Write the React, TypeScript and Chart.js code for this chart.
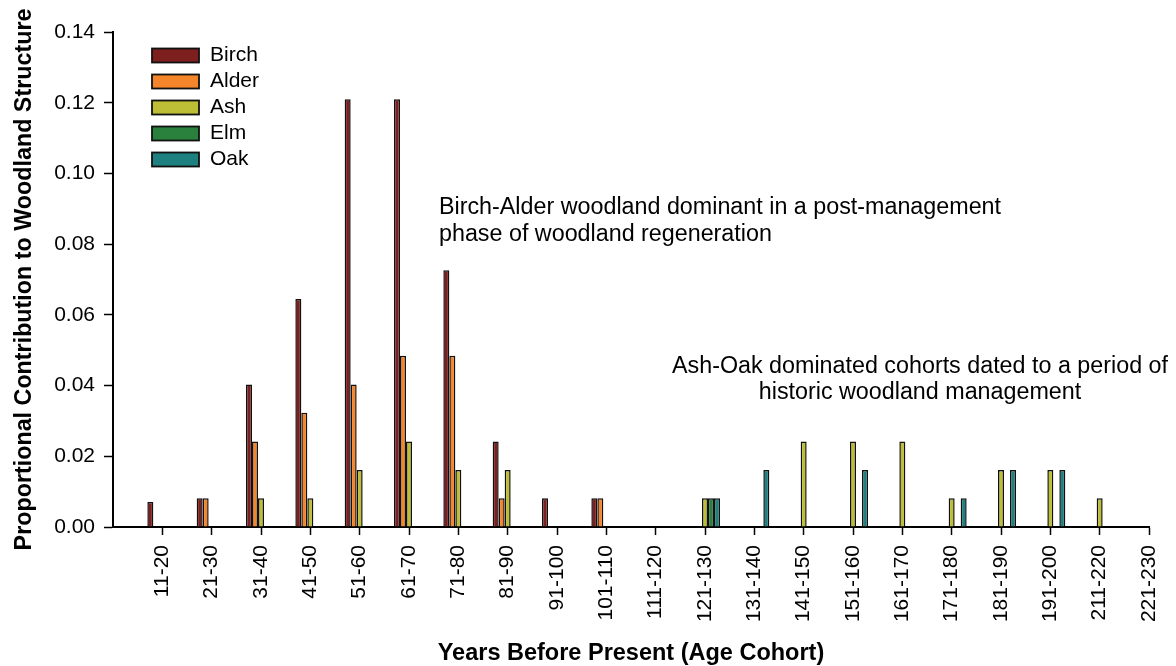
import React, { useEffect, useRef } from 'react';
import { Chart, registerables } from 'chart.js';

Chart.register(...registerables);

const FONT = '"Liberation Sans", Arial, Helvetica, sans-serif';

// Age cohorts (leading blank slot sits on the y-axis)
const categories = ['', '11-20', '21-30', '31-40', '41-50', '51-60', '61-70', '71-80', '81-90', '91-100', '101-110', '111-120', '121-130', '131-140', '141-150', '151-160', '161-170', '171-180', '181-190', '191-200', '211-220', '221-230'];

const birch = [null, 0.0071, 0.0081, 0.0403, 0.0645, 0.121, 0.121, 0.0726, 0.0242, 0.0081, 0.0081, null, null, null, null, null, null, null, null, null, null, null];
const alder = [null, null, 0.0081, 0.0242, 0.0323, 0.0403, 0.0484, 0.0484, 0.0081, null, 0.0081, null, null, null, null, null, null, null, null, null, null, null];
const ash = [null, null, null, 0.0081, 0.0081, 0.0161, 0.0242, 0.0161, 0.0161, null, null, null, 0.0081, null, 0.0242, 0.0242, 0.0242, 0.0081, 0.0161, 0.0161, 0.0081, null];
const elm = [null, null, null, null, null, null, null, null, null, null, null, null, 0.0081, null, null, null, null, null, null, null, null, null];
const oak = [null, null, null, null, null, null, null, null, null, null, null, null, 0.0081, 0.0161, null, 0.0161, null, 0.0081, 0.0161, 0.0161, null, null];

const seriesNames = ['Birch', 'Alder', 'Ash', 'Elm', 'Oak'];
const seriesColors = ['#7e1f1f', '#f5852a', '#bdbd36', '#2a803d', '#1f8080'];

const yTicks = [0, 0.02, 0.04, 0.06, 0.08, 0.1, 0.12, 0.14];

const annotation1 = ['Birch-Alder woodland dominant in a post-management', 'phase of woodland regeneration'];
const annotation2 = ['Ash-Oak dominated cohorts dated to a period of', 'historic woodland management'];

const customLegend = {
  id: 'customLegend',
  afterDraw(chart: any) {
    const ctx = chart.ctx;
    ctx.save();
    ctx.font = `21px ${FONT}`;
    ctx.textBaseline = 'middle';
    ctx.textAlign = 'left';
    chart.data.datasets.forEach((ds: any, i: number) => {
      const x = 152;
      const y = 48.5 + i * 26;
      ctx.fillStyle = ds.backgroundColor;
      ctx.fillRect(x, y, 47, 14);
      ctx.lineWidth = 1.8;
      ctx.strokeStyle = '#111';
      ctx.strokeRect(x, y, 47, 14);
      ctx.fillStyle = '#000';
      ctx.fillText(ds.label, 210, y + 7);
    });
    ctx.restore();
  },
};

const annotations = {
  id: 'annotations',
  afterDraw(chart: any) {
    const ctx = chart.ctx;
    ctx.save();
    ctx.font = `23.3px ${FONT}`;
    ctx.fillStyle = '#000';
    ctx.textBaseline = 'middle';
    ctx.textAlign = 'left';
    annotation1.forEach((t, i) => ctx.fillText(t, 439, 208 + i * 27));
    ctx.textAlign = 'center';
    annotation2.forEach((t, i) => ctx.fillText(t, 920, 367 + i * 26));
    ctx.restore();
  },
};

export default function App() {
  const ref = useRef<HTMLCanvasElement | null>(null);

  useEffect(() => {
    document.body.style.margin = '0';
    if (!ref.current) return;
    Chart.defaults.font.family = FONT;
    Chart.defaults.color = '#000';
    const dataSeries = [birch, alder, ash, elm, oak];
    const chart = new Chart(ref.current, {
      type: 'bar',
      data: {
        labels: categories,
        datasets: dataSeries.map((d, i) => ({
          label: seriesNames[i],
          data: d,
          backgroundColor: seriesColors[i],
          borderColor: '#111',
          borderWidth: 1.5,
          borderSkipped: 'bottom',
          categoryPercentage: 0.608,
          barPercentage: 1,
        })),
      },
      options: {
        responsive: false,
        animation: false,
        devicePixelRatio: 1,
        layout: { padding: { top: 32, right: 27, left: 0, bottom: 0 } },
        plugins: {
          legend: { display: false },
          tooltip: { enabled: false },
        },
        scales: {
          x: {
            type: 'category',
            offset: false,
            min: 0,
            max: categories.length - 1,
            afterFit: (s: any) => { s.height = 139; s.paddingRight = 0; s.paddingLeft = 0; },
            afterBuildTicks: (s: any) => { s.ticks = s.ticks.filter((t: any) => t.value !== 0); },
            grid: {
              offset: false,
              drawOnChartArea: false,
              drawTicks: true,
              tickLength: 8,
              tickColor: '#000',
              tickWidth: 1.5,
              color: '#000',
            },
            border: { display: true, color: '#000', width: 2 },
            ticks: {
              autoSkip: false,
              minRotation: 90,
              maxRotation: 90,
              padding: 10,
              font: { size: 21 },
              color: '#000',
            },
            title: {
              display: true,
              text: 'Years Before Present (Age Cohort)',
              font: { size: 23.5, weight: 'bold', lineHeight: 1 },
              padding: { top: 0, bottom: 1 },
              color: '#000',
            },
          },
          y: {
            min: 0,
            max: 0.14,
            afterFit: (s: any) => { s.width = 113; s.paddingTop = 0; s.paddingBottom = 0; },
            afterBuildTicks: (s: any) => { s.ticks = yTicks.map((v) => ({ value: v })); },
            grid: {
              drawOnChartArea: false,
              drawTicks: true,
              tickLength: 9,
              tickColor: '#000',
              tickWidth: 1.5,
              color: '#000',
            },
            border: { display: true, color: '#000', width: 2 },
            ticks: {
              padding: 9,
              font: { size: 21 },
              color: '#000',
              callback: (v: any) => Number(v).toFixed(2),
            },
            title: {
              display: true,
              text: 'Proportional Contribution to Woodland Structure',
              font: { size: 23.3, weight: 'bold', lineHeight: 1 },
              padding: { top: 12.5, bottom: 0 },
              color: '#000',
            },
          },
        },
      } as any,
      plugins: [customLegend, annotations],
    });
    return () => chart.destroy();
  }, []);

  return (
    <div style={{ width: 1176, height: 666, position: 'relative' }}>
      <canvas ref={ref} width={1176} height={666} />
    </div>
  );
}
